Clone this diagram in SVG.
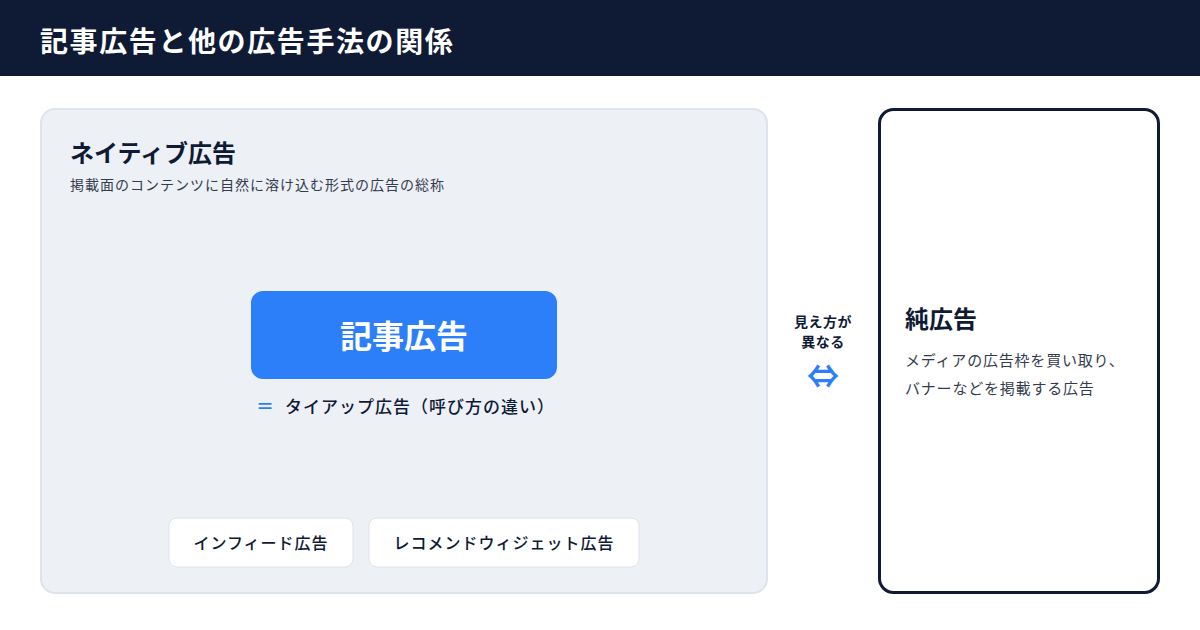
<svg xmlns="http://www.w3.org/2000/svg" width="1200" height="630" viewBox="0 0 1200 630">
<style>
text{font-family:"Noto Sans CJK JP","Noto Sans",sans-serif;}
.dark{fill:#0f1a35;}
.b{font-weight:700;}
.m{font-weight:500;}
.pill{fill:#ffffff;stroke:#dde3ec;stroke-width:1;}
.pt{font-size:16px;font-weight:500;fill:#0f1a35;letter-spacing:1px;}
</style>
<rect x="0" y="0" width="1200" height="630" fill="#ffffff"/>
<g id="header">
<rect x="0" y="0" width="1200" height="76" fill="#0f1a35"/>
<text x="40" y="52" font-size="28" class="b" fill="#ffffff" letter-spacing="1.6">記事広告と他の広告手法の関係</text>
</g>
<g id="native">
<rect x="41" y="109" width="726" height="484" rx="14" fill="#edf0f5" stroke="#dde3ec" stroke-width="2"/>
<text x="70" y="162" font-size="24" class="b dark">ネイティブ広告</text>
<text x="70" y="190" font-size="14" fill="#333c4e" letter-spacing="1">掲載面のコンテンツに自然に溶け込む形式の広告の総称</text>
</g>
<g id="kiji">
<rect x="251" y="291" width="306" height="88" rx="12" fill="#2d7ff9"/>
<text x="404" y="348" font-size="32" class="b" fill="#ffffff" text-anchor="middle">記事広告</text>
<text x="256" y="413" font-size="18" class="b" fill="#2d7ff9">＝</text>
<text x="285" y="413" font-size="17" class="m dark" letter-spacing="1">タイアップ広告（呼び方の違い）</text>
</g>
<g id="infeed">
<rect x="169" y="518" width="184" height="49" rx="8" class="pill"/>
<text x="261" y="549" class="pt" text-anchor="middle">インフィード広告</text>
</g>
<g id="recommend">
<rect x="369" y="518" width="270" height="49" rx="8" class="pill"/>
<text x="504" y="549" class="pt" text-anchor="middle">レコメンドウィジェット広告</text>
</g>
<g id="connectors">
<text x="823" y="327" font-size="14" class="b dark" text-anchor="middle" letter-spacing="0.5">見え方が</text>
<text x="823" y="347" font-size="14" class="b dark" text-anchor="middle" letter-spacing="0.5">異なる</text>
<text x="823" y="388" font-size="32" class="b" fill="#2d7ff9" text-anchor="middle">⇔</text>
</g>
<g id="pure">
<rect x="879.5" y="109.5" width="279" height="483" rx="14" fill="#ffffff" stroke="#0f1a35" stroke-width="3"/>
<text x="905" y="328" font-size="24" class="b dark">純広告</text>
<text x="905" y="366" font-size="15" fill="#333c4e" letter-spacing="0.8">メディアの広告枠を買い取り、</text>
<text x="905" y="394" font-size="15" fill="#333c4e" letter-spacing="0.8">バナーなどを掲載する広告</text>
</g>
</svg>
